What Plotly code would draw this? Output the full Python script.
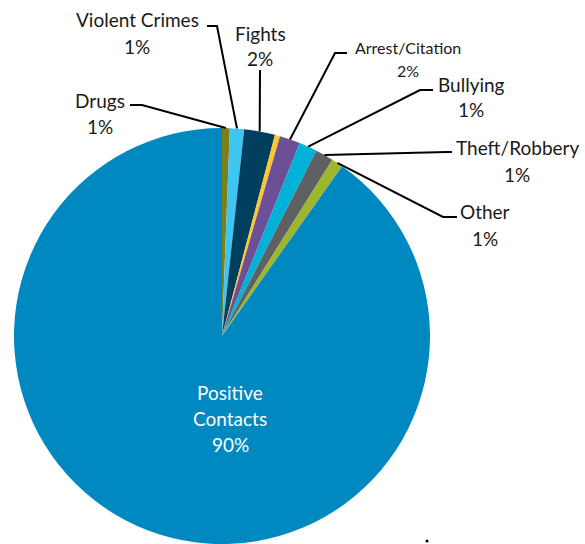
import math
import plotly.graph_objects as go

W, H = 585, 544

# Incident categories, clockwise from 12 o'clock
categories = ["Drugs", "Violent Crimes", "Fights", "(unlabeled)", "Arrest/Citation",
              "Bullying", "Theft/Robbery", "Other", "Positive Contacts"]
values = [0.6, 1.1, 2.4, 0.4, 1.6, 1.4, 1.4, 0.9, 90.2]
colors = ["#7A801E", "#3FC5F2", "#003F5E", "#FFC72C", "#6D4F97",
          "#00B2D7", "#5E6062", "#9EB62C", "#0089C0"]

# Pie geometry in pixels
cx, cy, R = 222, 336, 208

fig = go.Figure(go.Pie(
    labels=categories,
    values=values,
    sort=False,
    direction="clockwise",
    rotation=0,
    marker=dict(colors=colors, line=dict(width=0)),
    textinfo="none",
    hoverinfo="label+percent",
    showlegend=False,
    domain=dict(x=[(cx - R) / W, (cx + R) / W], y=[1 - (cy + R) / H, 1 - (cy - R) / H]),
))

total = sum(values)
pct = [round(v / total * 100) for v in values]

# mid-angle (degrees clockwise from 12 o'clock) of each slice
mid_angles = []
acc = 0.0
for v in values:
    mid_angles.append((acc + v / 2) / total * 360)
    acc += v


def rim_point(angle_deg):
    a = math.radians(angle_deg)
    return cx + R * math.sin(a), cy - R * math.cos(a)


# callout layout: elbow point, line end, label centre, font size
callouts = {
    "Drugs":           dict(elbow=(142, 105), end=(130, 105), label=(100, 100), size=19),
    "Violent Crimes":  dict(elbow=(217, 26), end=(207, 26), label=(137, 20), size=19),
    "Fights":          dict(elbow=(260, 70), end=(260, 70), label=(260, 33), size=19),
    "Arrest/Citation": dict(elbow=(335, 53), end=(347, 53), label=(408, 47), size=16),
    "Bullying":        dict(elbow=(420, 90), end=(433, 90), label=(471, 84), size=19),
    "Theft/Robbery":   dict(elbow=(447, 152), end=(452, 152), label=(517, 148), size=19),
    "Other":           dict(elbow=(443, 217), end=(457, 217), label=(485, 212), size=19),
}

font_family = "Lato, 'Open Sans', sans-serif"
text_color = "#1a1a1a"


def text_at(x, y, text, size, color=text_color):
    return dict(xref="paper", yref="paper", x=x / W, y=1 - y / H, text=text,
                showarrow=False, xanchor="center", yanchor="middle",
                font=dict(family=font_family, size=size, color=color))


shapes = []
annotations = []
for name, ang, p in zip(categories, mid_angles, pct):
    if name not in callouts:
        continue
    c = callouts[name]
    x0, y0 = rim_point(ang)
    ex, ey = c["elbow"]
    nx, ny = c["end"]
    path = f"M {x0/W},{1-y0/H} L {ex/W},{1-ey/H} L {nx/W},{1-ny/H}"
    shapes.append(dict(type="path", xref="paper", yref="paper", path=path,
                       line=dict(color="black", width=2)))
    lx, ly = c["label"]
    annotations.append(text_at(lx, ly, name, c["size"]))
    annotations.append(text_at(lx, ly + (26 if c["size"] > 16 else 24), f"{p}%", c["size"]))

# label inside the large slice
big = categories.index("Positive Contacts")
for i, line in enumerate(["Positive", "Contacts", f"{pct[big]}%"]):
    annotations.append(text_at(230, 392 + 26 * i, line, 19, "white"))

# small stray dot near the bottom
shapes.append(dict(type="circle", xref="paper", yref="paper",
                   x0=425.5 / W, x1=428.5 / W, y0=1 - 542.5 / H, y1=1 - 539.5 / H,
                   fillcolor="black", line=dict(width=0)))

fig.update_layout(
    width=W, height=H,
    margin=dict(l=0, r=0, t=0, b=0),
    paper_bgcolor="white",
    plot_bgcolor="white",
    shapes=shapes,
    annotations=annotations,
)

fig.write_html("out.html")
